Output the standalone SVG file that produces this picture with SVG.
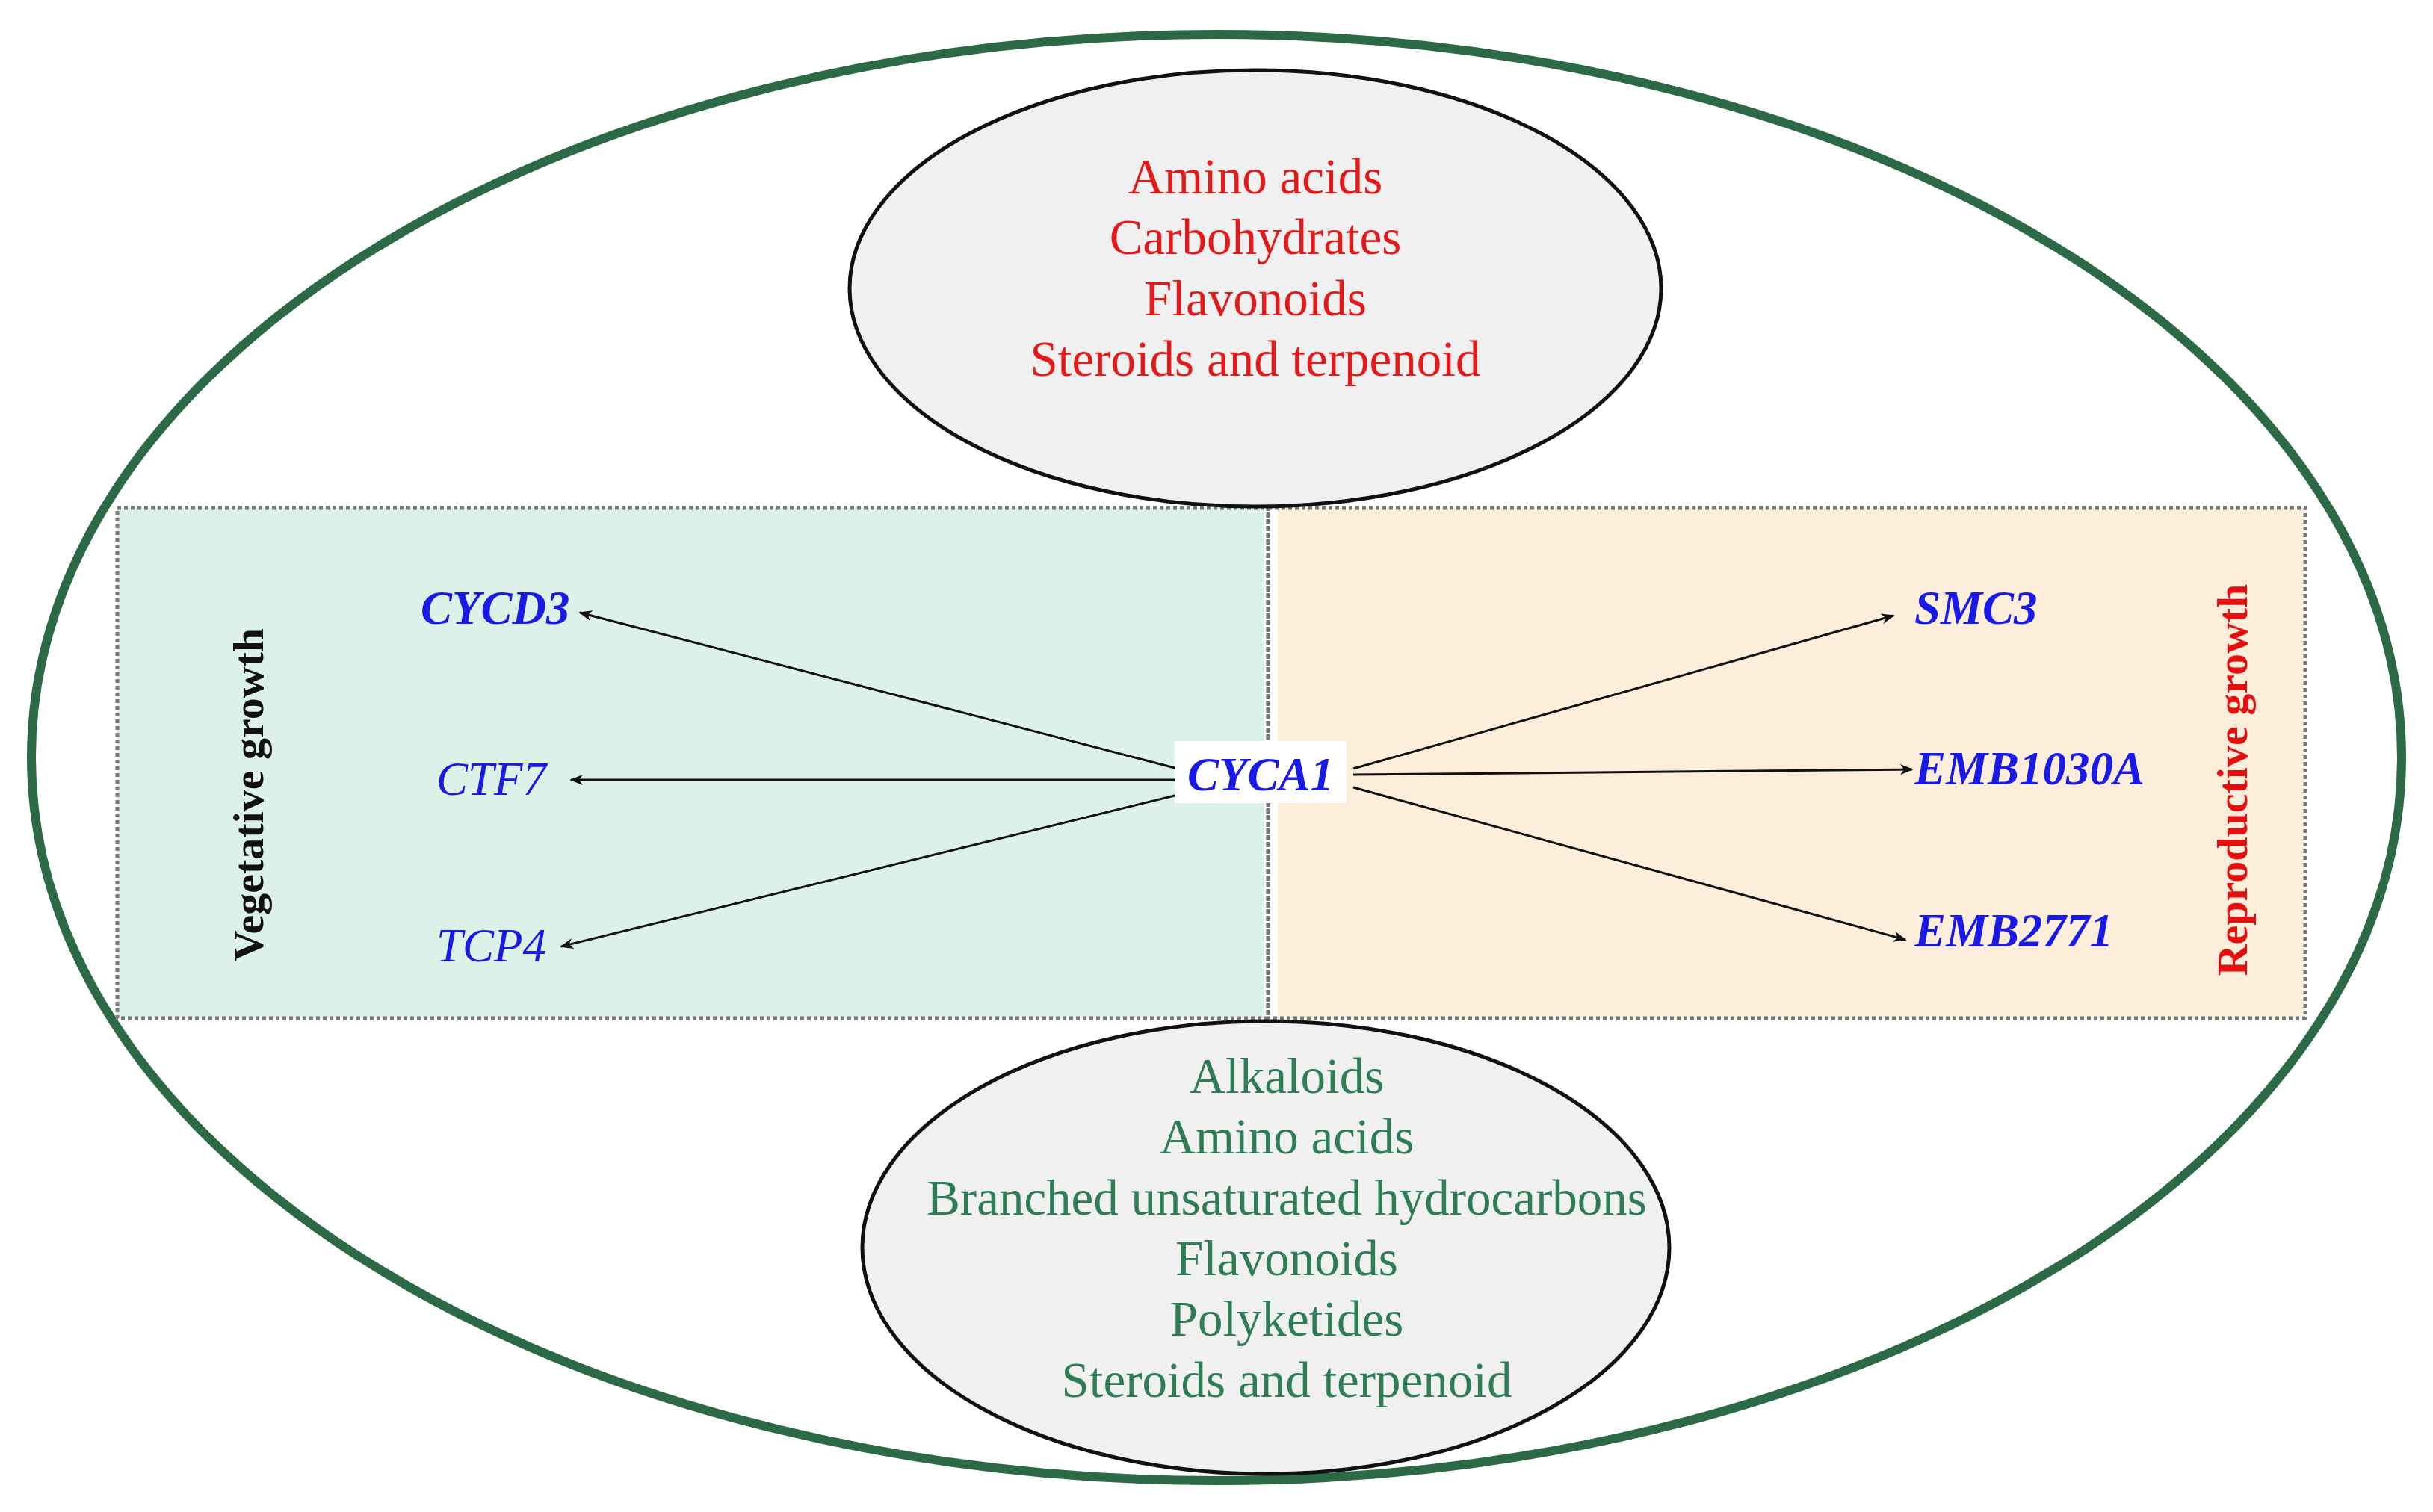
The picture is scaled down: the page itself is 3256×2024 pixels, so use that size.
<svg xmlns="http://www.w3.org/2000/svg" width="3256" height="2024" viewBox="0 0 3256 2024">
<style>
.gene{font-family:"Liberation Serif",serif;font-style:italic;font-size:63px;fill:#1a1ae6}
.b{font-weight:bold}
.met{font-family:"Liberation Serif",serif;font-size:67px;text-anchor:middle}
.side{font-family:"Liberation Serif",serif;font-weight:bold;font-size:58px;text-anchor:middle}
.conn line{stroke:#111;stroke-width:3;marker-end:url(#ah)}
</style>
<defs>
<marker id="ah" viewBox="0 0 10 10" refX="9" refY="5" markerWidth="6" markerHeight="6" orient="auto" markerUnits="strokeWidth"><path d="M0,1 L10,5 L0,9 L3,5 Z" fill="#111"/></marker>
</defs>
<rect width="3256" height="2024" fill="#fff"/>
<g id="outer"><ellipse cx="1628" cy="1014" rx="1586" ry="968" fill="#fff" stroke="#2b6a45" stroke-width="12"/></g>
<g id="vegetative">
<rect x="157" y="680" width="1535" height="683" fill="#dcf1e7"/>
<rect x="157" y="680" width="1540" height="683" fill="none" stroke="#777" stroke-width="5" stroke-dasharray="5,4"/>
<text class="side" transform="translate(352,1064) rotate(-90)" fill="#111">Vegetative growth</text>
</g>
<g id="reproductive">
<rect x="1710" y="680" width="1375" height="683" fill="#fdeedc"/>
<rect x="1697" y="680" width="1388" height="683" fill="none" stroke="#777" stroke-width="5" stroke-dasharray="5,4"/>
<text class="side" transform="translate(3007,1044) rotate(-90)" fill="#e31010">Reproductive growth</text>
</g>
<g id="top-metabolites">
<ellipse cx="1680" cy="386" rx="543" ry="292" fill="#f0f0f0" stroke="#111" stroke-width="5"/>
<g class="met" fill="#e31a1a">
<text x="1680" y="259">Amino acids</text>
<text x="1680" y="340">Carbohydrates</text>
<text x="1680" y="422">Flavonoids</text>
<text x="1680" y="503">Steroids and terpenoid</text>
</g>
</g>
<g id="bottom-metabolites">
<ellipse cx="1694" cy="1670" rx="540" ry="303" fill="#f0f0f0" stroke="#111" stroke-width="5"/>
<g class="met" fill="#2e7d57">
<text x="1722" y="1463">Alkaloids</text>
<text x="1722" y="1544">Amino acids</text>
<text x="1722" y="1626">Branched unsaturated hydrocarbons</text>
<text x="1722" y="1707">Flavonoids</text>
<text x="1722" y="1788">Polyketides</text>
<text x="1722" y="1870">Steroids and terpenoid</text>
</g>
</g>
<g class="conn" id="connectors">
<line x1="1576" y1="1029" x2="776" y2="820"/>
<line x1="1576" y1="1044" x2="764" y2="1044"/>
<line x1="1576" y1="1064" x2="751" y2="1267"/>
<line x1="1811" y1="1029" x2="2534" y2="824"/>
<line x1="1811" y1="1037" x2="2559" y2="1030"/>
<line x1="1811" y1="1054" x2="2550" y2="1258"/>
</g>
<g id="CYCA1"><rect x="1572" y="992" width="230" height="83" fill="#fff"/><text class="gene b" x="1687" y="1058" text-anchor="middle">CYCA1</text></g>
<g id="CYCD3"><text class="gene b" x="563" y="835">CYCD3</text></g>
<g id="CTF7"><text class="gene" x="584" y="1064">CTF7</text></g>
<g id="TCP4"><text class="gene" x="584" y="1287">TCP4</text></g>
<g id="SMC3"><text class="gene b" x="2562" y="835">SMC3</text></g>
<g id="EMB1030A"><text class="gene b" x="2562" y="1050">EMB1030A</text></g>
<g id="EMB2771"><text class="gene b" x="2562" y="1267">EMB2771</text></g>
</svg>
